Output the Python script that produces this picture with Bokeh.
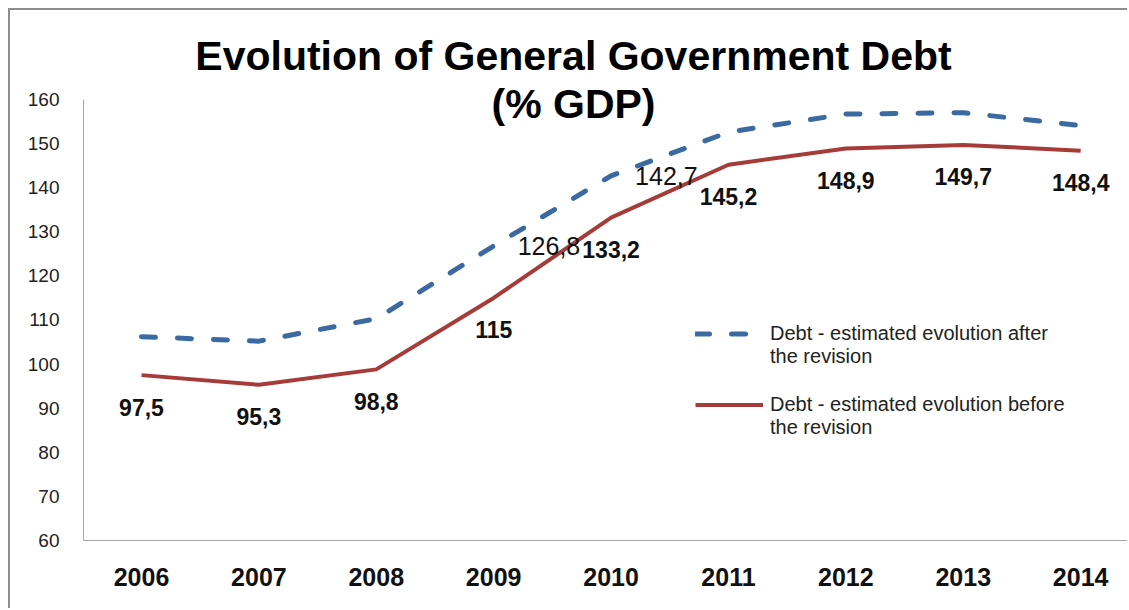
from bokeh.plotting import figure
from bokeh.models import (ColumnDataSource, LabelSet, Label, Legend, LegendItem,
                          FixedTicker, Range1d)
from bokeh.core.properties import value
from bokeh.embed import file_html
from bokeh.resources import INLINE

# ---------------- data ----------------
years = [2006, 2007, 2008, 2009, 2010, 2011, 2012, 2013, 2014]
after_revision = [106.2, 105.2, 110.3, 126.8, 142.7, 152.6, 156.7, 157.0, 154.1]
before_revision = [97.5, 95.3, 98.8, 115, 133.2, 145.2, 148.9, 149.7, 148.4]
after_labelled_years = [2009, 2010]
y_ticks = [60, 70, 80, 90, 100, 110, 120, 130, 140, 150, 160]
title_lines = ["Evolution of General Government Debt", "(% GDP)"]
legend_after = ["Debt - estimated evolution after", "the revision"]
legend_before = ["Debt - estimated evolution before", "the revision"]

FONT = "Liberation Sans"
BLUE = "#3b6aa1"
RED = "#a53c3a"


def fmt(v):
    return f"{v:g}".replace(".", ",")


src_after = ColumnDataSource(dict(x=years, y=after_revision))
src_before = ColumnDataSource(dict(x=years, y=before_revision,
                                   lab=[fmt(v) for v in before_revision]))
lab_x = [x for x in years if x in after_labelled_years]
lab_y = [after_revision[years.index(x)] for x in lab_x]
src_after_lab = ColumnDataSource(dict(x=lab_x, y=lab_y, lab=[fmt(v) for v in lab_y]))

p = figure(width=1119, height=600, output_backend="svg", toolbar_location=None,
           x_range=Range1d(2005.506, 2014.416), y_range=Range1d(60, 180.18),
           min_border_left=73, min_border_right=0, min_border_top=0,
           min_border_bottom=70)
p.styles = {"margin-left": "8px", "margin-top": "8px",
            "border-left": "2px solid #8e8e8e", "border-top": "2px solid #8e8e8e"}
p.outline_line_color = None
p.xgrid.visible = False
p.ygrid.visible = False
p.background_fill_color = "white"
p.border_fill_color = "white"

r_after = p.line("x", "y", source=src_after, line_color=BLUE, line_width=5,
                 line_dash="14 22", line_cap="round")
r_before = p.line("x", "y", source=src_before, line_color=RED, line_width=4,
                  line_join="round")
# invisible renderer used only for the legend's second text lines
r_blank = p.line(x=[], y=[], line_alpha=0)

# axes
p.yaxis.ticker = FixedTicker(ticks=y_ticks)
p.yaxis.bounds = (60, 160)
p.xaxis.ticker = FixedTicker(ticks=years)
for ax in (p.xaxis[0], p.yaxis[0]):
    ax.axis_line_color = "#a6a6a6"
    ax.axis_line_width = 1
    ax.major_tick_line_color = None
    ax.minor_tick_line_color = None
    ax.major_label_text_font = FONT
p.yaxis.major_label_text_font_size = "19px"
p.yaxis.major_label_text_color = "#222222"
p.yaxis.major_label_standoff = 18
p.xaxis.major_label_text_font_size = "25px"
p.xaxis.major_label_text_font_style = "bold"
p.xaxis.major_label_text_color = "#111111"
p.xaxis.major_label_standoff = 21

# data labels
p.add_layout(LabelSet(x="x", y="y", text="lab", source=src_before,
                      y_offset=-32, text_align="center", text_baseline="middle",
                      text_font=value(FONT), text_font_size=value("23px"),
                      text_font_style="bold", text_color="#111111"))
p.add_layout(LabelSet(x="x", y="y", text="lab", source=src_after_lab,
                      x_offset=24, text_align="left", text_baseline="middle",
                      text_font=value(FONT), text_font_size=value("25px"),
                      text_color="#111111"))

# title
for i, t in enumerate(title_lines):
    p.add_layout(Label(x=490, y=485 - 48 * i, x_units="screen", y_units="screen",
                       text=t, text_align="center", text_baseline="middle",
                       text_font=FONT, text_font_size="41px", text_font_style="bold",
                       text_color="black"))

# legend (two blocks, glyph aligned with the first text line)
for lines, rend, ypos in ((legend_after, r_after, 172), (legend_before, r_before, 101)):
    lg = Legend(items=[LegendItem(label=lines[0], renderers=[rend]),
                       LegendItem(label=lines[1], renderers=[r_blank])],
                location=(612, ypos), glyph_width=68, glyph_height=23,
                label_height=23, label_standoff=7, spacing=0, padding=0, margin=0,
                label_text_font=FONT, label_text_font_size="20px",
                label_text_color="#222222",
                border_line_color=None, background_fill_alpha=0)
    p.add_layout(lg)

open("out.html", "w").write(file_html(p, INLINE))
